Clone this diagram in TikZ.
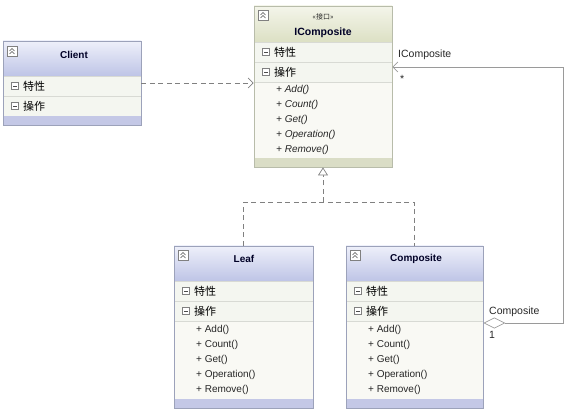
\documentclass[tikz,border=0pt]{standalone}
\usepackage{fontspec}
\setmainfont{Liberation Sans}
\newfontfamily\cjk{Noto Sans CJK SC}
\usetikzlibrary{arrows.meta}
\definecolor{bluetop}{HTML}{EEF0FA}
\definecolor{bluebot}{HTML}{BEC4E6}
\definecolor{blueband}{HTML}{C4C8E6}
\definecolor{greentop}{HTML}{F4F5EA}
\definecolor{greenbot}{HTML}{DCE0C4}
\definecolor{greenband}{HTML}{DADDC6}
\definecolor{rowfill}{HTML}{F4F6F0}
\definecolor{methfill}{HTML}{F9F9F4}
\definecolor{blueline}{HTML}{9CA2BA}
\definecolor{greenline}{HTML}{B8BCAA}
\definecolor{sepline}{HTML}{D8DAD4}
\definecolor{conline}{HTML}{808080}
\tikzset{
    classbox/.style={draw, line width=0.8pt, fill=none, inner sep=0pt},
    title/.style={font=\fontsize{10}{12}\selectfont\bfseries, text=black!85!blue},
    part/.style={anchor=west, inner sep=0pt, font=\cjk\fontsize{11}{13}\selectfont},
    meth/.style={anchor=west, inner sep=0pt, font=\fontsize{10}{12}\selectfont, text=black!85},
    rowsep/.style={draw=sepline, line width=0.6pt},
    lbl/.style={inner sep=0pt, font=\fontsize{10.5}{12}\selectfont, text=black!85},
    dashline/.style={conline, line width=0.7pt, dash pattern=on 5pt off 3.5pt},
    chev/.pic={
        \draw[gray, fill=white, line width=0.5pt] (0,0) rectangle (10,10);
        \draw[black!70, line width=0.6pt] (2.5,5)--(5,2.5)--(7.5,5);
        \draw[black!70, line width=0.6pt] (2.5,8)--(5,5.5)--(7.5,8);
    },
    minusbox/.pic={
        \draw[gray, fill=white, line width=0.5pt] (-3.5,-3.5) rectangle (3.5,3.5);
        \draw[black!70, line width=0.6pt] (-2,0) -- (2,0);
    },
}
\begin{document}
\begin{tikzpicture}[x=1pt, y=-1pt]
\useasboundingbox (0,0) rectangle (588,419);
%Client
\begin{scope}[shift={(3,41)}]
    \shade[top color=bluetop, bottom color=bluebot] (0,0) rectangle (138,35);
    \fill[rowfill] (0,35) rectangle (138,75);
    \draw[rowsep] (0,35) -- (138,35);
    \draw[rowsep] (0,55) -- (138,55);
    \fill[blueband] (0,75) rectangle (138,84);
    \pic at (4,5) {chev};
    \pic at (12,45) {minusbox};
    \node[part] at (20,45) {特性};
    \pic at (12,65) {minusbox};
    \node[part] at (20,65) {操作};
    \node[title] at (71,14) {Client};
    \node[classbox, draw=blueline, minimum width=138pt, minimum height=84pt] (client) at (69,42) {};
\end{scope}
%IComposite (interface)
\begin{scope}[shift={(254,6)}]
    \shade[top color=greentop, bottom color=greenbot] (0,0) rectangle (138,36);
    \fill[rowfill] (0,36) rectangle (138,76);
    \fill[methfill] (0,76) rectangle (138,152);
    \draw[rowsep] (0,36) -- (138,36);
    \draw[rowsep] (0,56) -- (138,56);
    \draw[rowsep] (0,76) -- (138,76);
    \fill[greenband] (0,152) rectangle (138,161);
    \pic at (4,4) {chev};
    \node[lbl, font=\cjk\fontsize{7}{8}\selectfont] at (69,11) {«接口»};
    \node[title, font=\fontsize{10.5}{12}\selectfont\bfseries] at (69,27) {IComposite};
    \pic at (12,46) {minusbox};
    \node[part] at (20,46) {特性};
    \pic at (12,66) {minusbox};
    \node[part] at (20,66) {操作};
    \foreach \m [count=\i] in {Add,Count,Get,Operation,Remove}
        \node[meth, font=\fontsize{10}{12}\selectfont\itshape] at (22,{69+15*\i}) {+ \m()};
    \node[classbox, draw=greenline, minimum width=138pt, minimum height=161pt] (icomp) at (69,80.5) {};
\end{scope}
%Leaf
\begin{scope}[shift={(174,246)}]
    \shade[top color=bluetop, bottom color=bluebot] (0,0) rectangle (139,35);
    \fill[rowfill] (0,35) rectangle (139,75);
    \fill[methfill] (0,75) rectangle (139,153);
    \draw[rowsep] (0,35) -- (139,35);
    \draw[rowsep] (0,55) -- (139,55);
    \draw[rowsep] (0,75) -- (139,75);
    \fill[blueband] (0,153) rectangle (139,162);
    \pic at (4,4) {chev};
    \node[title] at (70,13) {Leaf};
    \pic at (12,45) {minusbox};
    \node[part] at (20,45) {特性};
    \pic at (12,65) {minusbox};
    \node[part] at (20,65) {操作};
    \foreach \m [count=\i] in {Add,Count,Get,Operation,Remove}
        \node[meth] at (22,{69+15*\i}) {+ \m()};
    \node[classbox, draw=blueline, minimum width=139pt, minimum height=162pt] (leaf) at (69.5,81) {};
\end{scope}
%Composite
\begin{scope}[shift={(346,246)}]
    \shade[top color=bluetop, bottom color=bluebot] (0,0) rectangle (137,35);
    \fill[rowfill] (0,35) rectangle (137,75);
    \fill[methfill] (0,75) rectangle (137,153);
    \draw[rowsep] (0,35) -- (137,35);
    \draw[rowsep] (0,55) -- (137,55);
    \draw[rowsep] (0,75) -- (137,75);
    \fill[blueband] (0,153) rectangle (137,162);
    \pic at (4,4) {chev};
    \node[title] at (70,13) {Composite};
    \pic at (12,45) {minusbox};
    \node[part] at (20,45) {特性};
    \pic at (12,65) {minusbox};
    \node[part] at (20,65) {操作};
    \foreach \m [count=\i] in {Add,Count,Get,Operation,Remove}
        \node[meth] at (22,{69+15*\i}) {+ \m()};
    \node[classbox, draw=blueline, minimum width=137pt, minimum height=162pt] (comp) at (68.5,81) {};
\end{scope}
%dependency
\draw[dashline, -{Straight Barb[length=5pt,width=10pt]}]
    (client.east) -- (client.east -| icomp.west);
%realization
\coordinate (join) at ([yshift=-35pt]icomp.south);
\draw[dashline] (leaf.north) |- (join) -| (comp.north);
\draw[dashline, -{Triangle[open, fill=white, length=8pt, width=10pt]}]
    (join) -- (icomp.south);
%aggregation
\coordinate (compport) at ([yshift=4pt]comp.east);
\coordinate (icompport) at ([yshift=19.5pt]icomp.east);
\draw[conline!80, line width=0.7pt,
      {Diamond[open, fill=white, length=22pt, width=11pt]}-{Straight Barb[length=5pt,width=10pt]}]
    (compport) -- ++(80,0) |- (icompport);
\node[lbl, anchor=west] (rolea) at (398,55) {IComposite};
\node[lbl, anchor=west] (multa) at (400,79) {*};
\node[lbl, anchor=west] (roleb) at (489,312) {Composite};
\node[lbl, anchor=west] (multb) at (489,335) {1};
\end{tikzpicture}
\end{document}
